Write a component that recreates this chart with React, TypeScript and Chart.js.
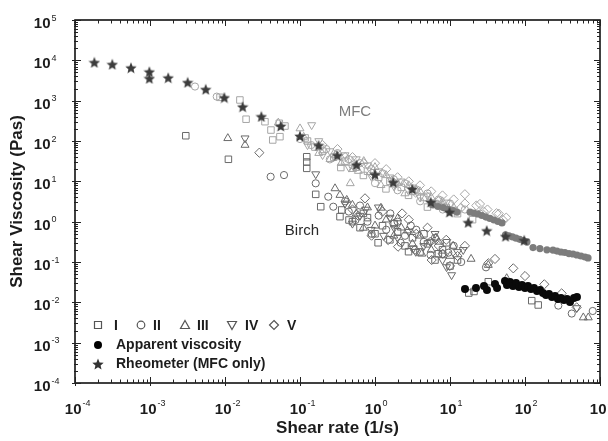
import React, { useEffect, useRef } from 'react';
import { Chart, registerables } from 'chart.js';

Chart.register(...registerables);

// ---------- data ----------
const xTickExponents = [-4, -3, -2, -1, 0, 1, 2, 3];
const yTickExponents = [-4, -3, -2, -1, 0, 1, 2, 3, 4, 5];
const xTitle = 'Shear rate (1/s)';
const yTitle = 'Shear Viscosity (Pas)';
const seriesNames = ['I', 'II', 'III', 'IV', 'V'];
const apparentName = 'Apparent viscosity';
const rheometerName = 'Rheometer (MFC only)';
const mfcLabel = { text: 'MFC', x: 0.54, y: 524 };
const birchLabel = { text: 'Birch', x: 0.106, y: 0.586 };

// Rheometer (MFC only) - stars
const rheometerX = [0.000181, 0.000314, 0.000558, 0.00098, 0.00098, 0.00175, 0.00318, 0.00553, 0.0098, 0.0172, 0.0305, 0.0553, 0.1, 0.177, 0.314, 0.566, 1.0, 1.75, 3.14, 5.53, 9.84, 17.5, 30.9, 55, 97.7];
const rheometerY = [8930, 7980, 6560, 5220, 3580, 3710, 2850, 1915, 1197, 708, 405, 235, 133, 78, 44, 25.8, 14.8, 9.46, 6.45, 3.07, 1.73, 0.96, 0.6, 0.434, 0.345];

// Apparent viscosity, birch (black dots)
const birchApparentX = [15.85, 22.2, 28.4, 31.1, 39.8, 42.4, 54.1, 57.5, 63.1, 69.2, 75.9, 83.2, 91.2, 100, 109.6, 120.2, 131.8, 144.5, 158.5, 173.8, 190.5, 208.9, 229, 251, 275, 302, 331, 363, 398, 450, 493];
const birchApparentY = [0.0214, 0.0226, 0.0254, 0.0202, 0.0284, 0.0226, 0.0337, 0.0269, 0.0319, 0.0254, 0.0301, 0.024, 0.0269, 0.0226, 0.0254, 0.0214, 0.0226, 0.0191, 0.0202, 0.017, 0.0152, 0.0161, 0.0135, 0.0143, 0.0121, 0.0128, 0.0114, 0.0121, 0.0102, 0.0128, 0.0135];

// Apparent viscosity, MFC (grey dots)
const mfcApparentX = [5.93, 6.92, 8.07, 9.4, 10.96, 12.4, 18.5, 20.9, 23.6, 26.7, 30.2, 34.1, 38.6, 43.7, 49.3, 55, 61, 68, 76, 85, 95, 106, 128, 158, 196, 236, 267, 302, 341, 386, 437, 493, 558, 631, 692];
const mfcApparentY = [2.59, 2.38, 2.24, 2.06, 1.89, 1.73, 1.73, 1.64, 1.55, 1.42, 1.3, 1.2, 1.1, 1.01, 0.93, 0.47, 0.445, 0.42, 0.39, 0.365, 0.34, 0.315, 0.228, 0.215, 0.2, 0.198, 0.187, 0.177, 0.172, 0.162, 0.158, 0.149, 0.141, 0.133, 0.126];

// Series I (squares)
const squaresMFC: [number, number][] = [[0.00858, 1210], [0.0158, 1040], [0.0191, 347], [0.0341, 301], [0.041, 187], [0.0433, 106], [0.053, 275], [0.054, 128], [0.063, 235], [0.117, 119], [0.126, 100], [0.158, 70.8], [0.2, 56.2], [0.282, 39.8], [0.35, 22], [0.398, 31.6], [0.562, 22.4], [0.7, 14], [0.794, 17.8], [1.12, 12.6], [1.4, 6.5], [1.58, 10], [2.24, 7.08], [2.8, 4.5], [3.16, 5.62], [4.47, 3.98], [5, 2.3], [6.31, 2.82], [8.91, 2.24], [12.6, 1.58], [20, 1.12]];
const squaresBirch: [number, number][] = [[0.003, 135], [0.0111, 35.2], [0.123, 40.7], [0.123, 30.1], [0.123, 21], [0.162, 4.76], [0.189, 2.35], [0.36, 1.95], [0.341, 1.33], [0.45, 1.1], [0.501, 1.0], [0.631, 0.708], [0.7, 1.6], [0.794, 1.26], [1.0, 0.501], [1.1, 0.3], [1.26, 0.794], [1.58, 0.355], [1.8, 0.9], [2.0, 0.562], [2.51, 0.251], [2.8, 0.18], [3.16, 0.398], [3.98, 0.178], [4.5, 0.5], [5.01, 0.282], [6.31, 0.112], [7, 0.16], [7.94, 0.2], [9, 0.3], [10, 0.0794], [12.6, 0.112], [17.8, 0.017], [20.9, 0.0186], [32.4, 0.0324], [123, 0.011], [150, 0.0086]];

// Series II (circles)
const circlesMFC: [number, number][] = [[0.00398, 2240], [0.00776, 1260], [0.1, 112], [0.141, 79.4], [0.224, 63.1], [0.25, 35], [0.316, 50.1], [0.447, 35.5], [0.5, 25], [0.631, 28.2], [0.891, 20], [1.0, 9], [1.26, 15.8], [1.78, 11.2], [2.0, 6], [2.51, 8.91], [3.55, 6.31], [4, 3.2], [5.01, 5.01], [7.08, 3.55], [8, 2], [10, 2.82], [15.8, 2.0], [25.1, 1.58]];
const circlesBirch: [number, number][] = [[0.0406, 13.0], [0.0612, 14.3], [0.162, 8.93], [0.238, 4.16], [0.278, 2.35], [0.4, 3.2], [0.447, 1.78], [0.55, 1.1], [0.631, 2.51], [0.794, 1.0], [0.9, 0.5], [1.12, 1.41], [1.41, 0.631], [1.6, 1.6], [2.0, 1.0], [2.2, 0.3], [2.51, 0.447], [3.0, 0.8], [3.55, 0.631], [4.47, 0.316], [5.5, 0.15], [6.31, 0.398], [7.94, 0.158], [9.5, 0.17], [11.2, 0.251], [14.1, 0.1], [30.2, 0.0738], [278, 0.0083], [420, 0.00527], [800, 0.0061]];

// Series III (triangles)
const trianglesMFC: [number, number][] = [[0.0514, 284], [0.1, 204], [0.112, 126], [0.178, 50.1], [0.251, 35.5], [0.3, 45], [0.355, 28.2], [0.468, 8.91], [0.501, 20], [0.6, 18], [0.708, 31.6], [1.0, 22.4], [1.2, 8], [1.41, 14.1], [2.0, 8.91], [2.5, 5], [2.82, 7.94], [3.98, 5.62], [5.62, 3.98], [6, 2.6], [7.94, 3.16], [11.2, 2.24]];
const trianglesBirch: [number, number][] = [[0.0109, 117], [0.0185, 79.6], [0.293, 6.67], [0.341, 4.57], [0.42, 3.44], [0.5, 2.6], [0.562, 1.58], [0.7, 0.7], [0.794, 2.24], [1.0, 0.794], [1.2, 2.2], [1.41, 1.12], [1.78, 0.447], [2.0, 1.2], [2.24, 0.708], [2.7, 0.6], [3.16, 0.282], [3.98, 0.447], [4.2, 0.16], [5.62, 0.2], [6.5, 0.4], [7.08, 0.316], [10, 0.141], [11, 0.25], [19.1, 0.119], [32.4, 0.0841], [57, 0.0394], [599, 0.0042], [698, 0.0042]];

// Series IV (down triangles)
const downMFC: [number, number][] = [[0.143, 249], [0.126, 79.4], [0.178, 100], [0.2, 45], [0.251, 56.2], [0.398, 44.7], [0.45, 22], [0.562, 35.5], [0.794, 25.1], [0.9, 13], [1.12, 17.8], [1.58, 12.6], [1.8, 7.5], [2.24, 10], [3.16, 7.08], [4, 4], [5.01, 4.47], [7.08, 2.82], [9, 3], [11.2, 2.0]];
const downBirch: [number, number][] = [[0.0185, 117], [0.162, 15.1], [0.398, 2.82], [0.5, 0.9], [0.631, 1.41], [0.75, 2.0], [0.891, 0.631], [1.11, 2.27], [1.3, 0.45], [1.58, 1.26], [1.8, 0.7], [2.0, 0.398], [2.82, 0.562], [3.24, 0.218], [3.5, 0.18], [4.47, 0.251], [5.5, 0.32], [6.31, 0.501], [7.94, 0.112], [9, 0.075], [10.5, 0.0475], [12.6, 0.178], [15, 0.2], [489, 0.00723]];

// Series V (diamonds)
const diamondsMFC: [number, number][] = [[0.2, 79.4], [0.316, 63.1], [0.4, 40], [0.501, 39.8], [0.708, 28.2], [0.9, 16], [1.0, 28.2], [1.41, 20], [1.8, 9], [2.0, 12.6], [2.82, 10], [3.5, 5.2], [3.98, 7.94], [5.62, 5.62], [7, 3.2], [7.94, 4.47], [11.2, 3.55], [14, 2.2], [15.8, 2.82], [15.8, 4.79], [22.4, 2.51], [25.1, 2.75], [28, 1.8], [31.6, 2.0], [41.7, 1.62], [44.7, 1.58], [50.9, 1.1], [56.2, 1.26]];
const diamondsBirch: [number, number][] = [[0.0287, 51.3], [0.501, 2.0], [0.6, 1.4], [0.736, 3.79], [0.9, 0.45], [1.26, 1.78], [1.5, 0.35], [1.78, 0.891], [2.03, 0.24], [2.3, 1.6], [2.82, 1.12], [3.4, 0.2], [3.55, 0.501], [5.01, 0.708], [5.5, 0.32], [5.7, 0.112], [7.08, 0.251], [8, 0.16], [8.91, 0.355], [10, 0.08], [12.6, 0.141], [15.8, 0.251], [32.4, 0.0929], [39.8, 0.119], [69.8, 0.0697], [100, 0.0449], [181, 0.028], [308, 0.0167], [489, 0.0075]];

// ---------- styles ----------
const FONT = '"Liberation Sans", Arial, Helvetica, sans-serif';
const TEXT = '#1c1c1c';
const MFC_GREY = '#a6a6a6';
const BIRCH_GREY = '#6a6a6a';
const STAR_COLOR = '#3c3c3c';

function makeStar(size: number, color: string): HTMLCanvasElement {
  const c = document.createElement('canvas');
  c.width = size;
  c.height = size;
  const g = c.getContext('2d')!;
  const R = size / 2;
  const r = R * 0.45;
  g.beginPath();
  for (let i = 0; i < 10; i++) {
    const a = -Math.PI / 2 + (i * Math.PI) / 5;
    const rad = i % 2 === 0 ? R : r;
    g.lineTo(R + rad * Math.cos(a), R + 0.6 + rad * Math.sin(a));
  }
  g.closePath();
  g.fillStyle = color;
  g.fill();
  return c;
}

const pairs = (arr: [number, number][]) => arr.map(([x, y]) => ({ x, y }));
const zip = (xs: number[], ys: number[]) => xs.map((x, i) => ({ x, y: ys[i] }));

type Shape = 'rect' | 'circle' | 'triangle' | 'triangleDown' | 'rectRot' | 'dot' | 'star';

function drawMarker(ctx: CanvasRenderingContext2D, shape: Shape, x: number, y: number, color: string, star?: HTMLCanvasElement) {
  ctx.save();
  ctx.strokeStyle = color;
  ctx.fillStyle = color;
  ctx.lineWidth = 1.2;
  ctx.beginPath();
  if (shape === 'rect') {
    ctx.rect(x - 3.5, y - 3.5, 7, 7);
    ctx.stroke();
  } else if (shape === 'circle') {
    ctx.arc(x, y, 3.8, 0, Math.PI * 2);
    ctx.stroke();
  } else if (shape === 'triangle') {
    ctx.moveTo(x, y - 4.5);
    ctx.lineTo(x + 4.5, y + 3.5);
    ctx.lineTo(x - 4.5, y + 3.5);
    ctx.closePath();
    ctx.stroke();
  } else if (shape === 'triangleDown') {
    ctx.moveTo(x, y + 4.5);
    ctx.lineTo(x + 4.5, y - 3.5);
    ctx.lineTo(x - 4.5, y - 3.5);
    ctx.closePath();
    ctx.stroke();
  } else if (shape === 'rectRot') {
    ctx.moveTo(x, y - 4.5);
    ctx.lineTo(x + 4.5, y);
    ctx.lineTo(x, y + 4.5);
    ctx.lineTo(x - 4.5, y);
    ctx.closePath();
    ctx.stroke();
  } else if (shape === 'dot') {
    ctx.arc(x, y, 4, 0, Math.PI * 2);
    ctx.fill();
  } else if (shape === 'star' && star) {
    ctx.drawImage(star, x - star.width / 2, y - star.height / 2);
  }
  ctx.restore();
}

export default function App() {
  const ref = useRef<HTMLCanvasElement | null>(null);

  useEffect(() => {
    if (!ref.current) return;
    const star = makeStar(12, STAR_COLOR);
    const legendStar = makeStar(12, '#333333');

    const open = (label: string, data: [number, number][], style: any, color: string, radius: number, rotation = 0) => ({
      label,
      data: pairs(data),
      pointStyle: style,
      rotation,
      pointRadius: radius,
      pointBorderColor: color,
      pointBackgroundColor: 'rgba(0,0,0,0)',
      pointBorderWidth: 1,
      showLine: false,
    });

    const decor = {
      id: 'decor',
      afterDraw(chart: any) {
        const ctx: CanvasRenderingContext2D = chart.ctx;
        const { left, right, top, bottom } = chart.chartArea;
        const xs = chart.scales.x;
        const ys = chart.scales.y;
        ctx.save();
        // frame
        ctx.strokeStyle = '#111';
        ctx.lineWidth = 1.6;
        ctx.strokeRect(left, top, right - left, bottom - top);
        // ticks
        ctx.lineWidth = 1;
        ctx.beginPath();
        const xMin = xTickExponents[0];
        const xMax = xTickExponents[xTickExponents.length - 1];
        for (let e = xMin; e <= xMax; e++) {
          for (let m = 1; m <= 9; m++) {
            if (e === xMax && m > 1) break;
            const px = Math.round(xs.getPixelForValue(m * Math.pow(10, e))) + 0.5;
            const inLen = m === 1 ? 6 : 3.5;
            const outLen = m === 1 ? 3 : 0;
            ctx.moveTo(px, bottom + outLen);
            ctx.lineTo(px, bottom - inLen);
            ctx.moveTo(px, top);
            ctx.lineTo(px, top + inLen);
          }
        }
        const yMin = yTickExponents[0];
        const yMax = yTickExponents[yTickExponents.length - 1];
        for (let e = yMin; e <= yMax; e++) {
          for (let m = 1; m <= 9; m++) {
            if (e === yMax && m > 1) break;
            const py = Math.round(ys.getPixelForValue(m * Math.pow(10, e))) + 0.5;
            const inLen = m === 1 ? 6 : 3;
            const outLen = m === 1 ? 3 : 1;
            ctx.moveTo(left - outLen, py);
            ctx.lineTo(left + inLen, py);
            ctx.moveTo(right, py);
            ctx.lineTo(right - inLen, py);
          }
        }
        ctx.strokeStyle = '#222';
        ctx.stroke();

        // tick labels
        ctx.fillStyle = TEXT;
        ctx.textBaseline = 'alphabetic';
        for (const e of xTickExponents) {
          const px = xs.getPixelForValue(Math.pow(10, e));
          ctx.font = `bold 15px ${FONT}`;
          ctx.textAlign = 'right';
          ctx.fillText('10', px + 6.5, 413.5);
          ctx.font = `9px ${FONT}`;
          ctx.textAlign = 'left';
          ctx.fillText(String(e), px + 7.5, 406);
        }
        for (const e of yTickExponents) {
          const py = ys.getPixelForValue(Math.pow(10, e));
          ctx.font = `bold 15px ${FONT}`;
          ctx.textAlign = 'right';
          ctx.fillText('10', 50.5, py + 8);
          ctx.font = `9px ${FONT}`;
          ctx.textAlign = 'left';
          ctx.fillText(String(e), 51.5, py + 0.5);
        }

        // axis titles
        ctx.font = `bold 17px ${FONT}`;
        ctx.textAlign = 'center';
        ctx.textBaseline = 'middle';
        ctx.fillText(xTitle, (left + right) / 2, 428);
        ctx.save();
        ctx.translate(17, (top + bottom) / 2);
        ctx.rotate(-Math.PI / 2);
        ctx.fillText(yTitle, 0, 0);
        ctx.restore();

        // in-plot labels
        ctx.font = `15px ${FONT}`;
        ctx.fillStyle = '#7d7d7d';
        ctx.fillText(mfcLabel.text, xs.getPixelForValue(mfcLabel.x), ys.getPixelForValue(mfcLabel.y));
        ctx.fillStyle = '#2a2a2a';
        ctx.fillText(birchLabel.text, xs.getPixelForValue(birchLabel.x), ys.getPixelForValue(birchLabel.y));

        // legend
        const shapes: Shape[] = ['rect', 'circle', 'triangle', 'triangleDown', 'rectRot'];
        const markerX = [98, 141, 185, 232, 274];
        const textX = [114, 153, 197, 245, 287];
        const row1 = 325;
        ctx.font = `bold 14px ${FONT}`;
        ctx.textAlign = 'left';
        ctx.textBaseline = 'middle';
        seriesNames.forEach((name, i) => {
          drawMarker(ctx, shapes[i], markerX[i], row1, '#555');
          ctx.fillStyle = TEXT;
          ctx.fillText(name, textX[i], row1 + 1);
        });
        drawMarker(ctx, 'dot', 98, 345, '#000');
        ctx.fillStyle = TEXT;
        ctx.fillText(apparentName, 116, 345.5);
        drawMarker(ctx, 'star', 98, 364, '#333', legendStar);
        ctx.fillStyle = TEXT;
        ctx.fillText(rheometerName, 116, 364.5);
        ctx.restore();
      },
    };

    const chart = new Chart(ref.current, {
      type: 'scatter',
      data: {
        datasets: [
          {
            label: rheometerName,
            data: zip(rheometerX, rheometerY),
            pointStyle: star as any,
            pointRadius: 6,
            showLine: false,
          },
          {
            label: apparentName,
            data: zip(birchApparentX, birchApparentY),
            pointStyle: 'circle',
            pointRadius: 4,
            pointBackgroundColor: '#0a0a0a',
            pointBorderColor: '#0a0a0a',
            pointBorderWidth: 0,
            showLine: false,
          },
          {
            label: 'MFC apparent viscosity',
            data: zip(mfcApparentX, mfcApparentY),
            pointStyle: 'circle',
            pointRadius: 3.6,
            pointBackgroundColor: '#7c7c7c',
            pointBorderColor: '#7c7c7c',
            pointBorderWidth: 0,
            showLine: false,
          },
          open('I birch', squaresBirch, 'rect', BIRCH_GREY, 4.6),
          open('II birch', circlesBirch, 'circle', BIRCH_GREY, 3.6),
          open('III birch', trianglesBirch, 'triangle', BIRCH_GREY, 4.6),
          open('IV birch', downBirch, 'triangle', BIRCH_GREY, 4.6, 180),
          open('V birch', diamondsBirch, 'rectRot', BIRCH_GREY, 4.6),
          open('I MFC', squaresMFC, 'rect', MFC_GREY, 4.6),
          open('II MFC', circlesMFC, 'circle', MFC_GREY, 3.6),
          open('III MFC', trianglesMFC, 'triangle', MFC_GREY, 4.6),
          open('IV MFC', downMFC, 'triangle', MFC_GREY, 4.6, 180),
          open('V MFC', diamondsMFC, 'rectRot', MFC_GREY, 4.6),
        ] as any,
      },
      options: {
        animation: false,
        responsive: false,
        devicePixelRatio: 1,
        events: [],
        layout: { padding: { top: 20, right: 8, left: 0, bottom: 0 } },
        plugins: { legend: { display: false }, tooltip: { enabled: false } },
        scales: {
          x: {
            type: 'logarithmic',
            min: 1e-4,
            max: 1e3,
            grid: { display: false },
            border: { display: false },
            ticks: { display: false },
            afterFit: (s: any) => {
              s.height = 58;
            },
          },
          y: {
            type: 'logarithmic',
            min: 1e-4,
            max: 1e5,
            grid: { display: false },
            border: { display: false },
            ticks: { display: false },
            afterFit: (s: any) => {
              s.width = 75;
            },
          },
        },
      } as any,
      plugins: [decor],
    });
    return () => chart.destroy();
  }, []);

  return (
    <div style={{ position: 'absolute', left: 0, top: 0, width: 608, height: 441, background: '#fff' }}>
      <canvas ref={ref} width={608} height={441} style={{ display: 'block' }} />
    </div>
  );
}
